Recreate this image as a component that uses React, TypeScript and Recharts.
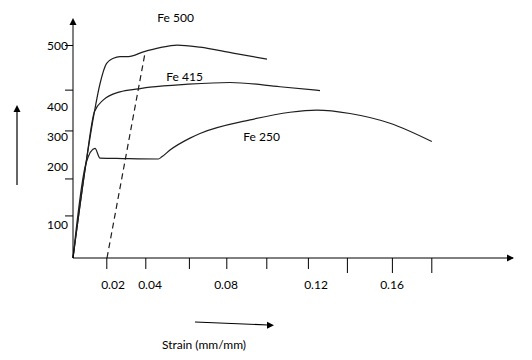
import { LineChart, Line, XAxis, YAxis, ReferenceDot } from "recharts";

// strain (mm/mm) / stress (N/mm²)
const fe500Strain = [0, 0.0065, 0.0107, 0.0135, 0.0168, 0.0202, 0.0235, 0.0277, 0.0352, 0.0435, 0.052, 0.0635, 0.08, 0.097];
const fe500Stress = [0, 223, 344, 410, 458, 470, 474, 474, 485, 495, 501, 496, 482, 468];

const fe415Strain = [0, 0.0065, 0.0107, 0.0152, 0.0235, 0.0327, 0.0385, 0.0575, 0.0785, 0.1035, 0.1235];
const fe415Stress = [0, 223, 344, 372, 391, 398, 402, 409, 413, 403, 394];

const fe250Strain = [0, 0.0065, 0.011, 0.0135, 0.025, 0.0427, 0.0444, 0.0485, 0.0585, 0.0635, 0.0885, 0.1085, 0.1219, 0.1385, 0.1585, 0.1794];
const fe250Stress = [0, 223, 258, 235, 234, 233, 238, 254, 282, 293, 325, 343, 348, 340, 317, 274];

// 0.2% offset proof line
const offsetStrain = [0.017, 0.036];
const offsetStress = [0, 482];

// axis ticks (the sketch puts tick marks and labels in slightly different places)
const xTickMarks = [0.0169, 0.0364, 0.0582, 0.0769, 0.0969, 0.1177, 0.1372, 0.1597, 0.1794];
const xLabelAt = [0.02, 0.0385, 0.0765, 0.1215, 0.1595];
const xTickLabels = ["0.02", "0.04", "0.08", "0.12", "0.16"];

const yTickMarks = [99, 186, 299, 395, 500];
const yLabelAt = [78, 216, 287, 356, 499];
const yTickLabels = ["100", "200", "300", "400", "500"];

const gradeNames = ["Fe 500", "Fe 415", "Fe 250"];
const gradeLabelStrain = [0.0513, 0.0558, 0.0943];
const gradeLabelStress = [565, 426, 285];

const toPoints = (xs: number[], ys: number[]) => xs.map((x, i) => ({ x, y: ys[i] }));

const FONT = "Lato, 'Open Sans', sans-serif";
const INK = "#000";
const CURVE = "#1e1e1e";

function XTick({ x, y, payload }: any) {
  const v = payload.value;
  if (xTickMarks.includes(v)) {
    return <line x1={x} x2={x} y1={y} y2={y + (v > 0.13 ? 15 : 11)} stroke={INK} strokeWidth={1} />;
  }
  const i = xLabelAt.indexOf(v);
  return (
    <text x={x} y={y + 26} textAnchor="middle" dominantBaseline="central" fontSize={12} fontFamily={FONT} fill={INK}>
      {xTickLabels[i]}
    </text>
  );
}

function YTick({ x, y, payload }: any) {
  const v = payload.value;
  if (yTickMarks.includes(v)) {
    return <line x1={x - 8} x2={x} y1={y} y2={y} stroke={INK} strokeWidth={1} />;
  }
  const i = yLabelAt.indexOf(v);
  return (
    <text x={x - 5} y={y} textAnchor="end" dominantBaseline="central" fontSize={12} fontFamily={FONT} fill={INK}>
      {yTickLabels[i]}
    </text>
  );
}

export default function App() {
  const curves = [
    toPoints(fe500Strain, fe500Stress),
    toPoints(fe415Strain, fe415Stress),
    toPoints(fe250Strain, fe250Stress),
  ];

  return (
    <div style={{ position: "absolute", left: 0, top: 0, width: 532, height: 360, background: "#fff" }}>
      <LineChart width={532} height={360} margin={{ top: 20, right: 19, bottom: 72, left: 0 }}>
        <XAxis
          type="number"
          dataKey="x"
          domain={[0, 0.22]}
          ticks={[...xTickMarks, ...xLabelAt]}
          interval={0}
          tick={<XTick />}
          tickLine={false}
          tickSize={0}
          tickMargin={0}
          height={30}
          axisLine={{ stroke: INK, strokeWidth: 1 }}
        />
        <YAxis
          type="number"
          domain={[0, 560]}
          ticks={[...yTickMarks, ...yLabelAt]}
          interval={0}
          tick={<YTick />}
          tickLine={false}
          tickSize={0}
          tickMargin={0}
          width={73}
          axisLine={{ stroke: INK, strokeWidth: 1 }}
        />
        {curves.map((pts, i) => (
          <Line
            key={gradeNames[i]}
            data={pts}
            dataKey="y"
            type="monotone"
            stroke={CURVE}
            strokeWidth={1.2}
            dot={false}
            activeDot={false}
            isAnimationActive={false}
          />
        ))}
        <Line
          data={toPoints(offsetStrain, offsetStress)}
          dataKey="y"
          type="linear"
          stroke={CURVE}
          strokeWidth={1.2}
          strokeDasharray="6 4"
          dot={false}
          activeDot={false}
          isAnimationActive={false}
        />
        {gradeNames.map((name, i) => (
          <ReferenceDot
            key={name}
            x={gradeLabelStrain[i]}
            y={gradeLabelStress[i]}
            ifOverflow="visible"
            shape={(p: any) => (
              <text x={p.cx} y={p.cy} textAnchor="middle" dominantBaseline="central" fontSize={12} fontFamily={FONT} fill={INK}>
                {name}
              </text>
            )}
          />
        ))}
        {/* axis arrowheads */}
        <ReferenceDot
          x={0}
          y={560}
          ifOverflow="visible"
          shape={(p: any) => (
            <polygon points={`${p.cx},${p.cy - 2} ${p.cx - 3.5},${p.cy + 5} ${p.cx + 3.5},${p.cy + 5}`} fill={INK} />
          )}
        />
        <ReferenceDot
          x={0.22}
          y={0}
          ifOverflow="visible"
          shape={(p: any) => (
            <polygon points={`${p.cx + 1},${p.cy} ${p.cx - 6},${p.cy - 3.5} ${p.cx - 6},${p.cy + 3.5}`} fill={INK} />
          )}
        />
      </LineChart>
      <svg width={532} height={360} style={{ position: "absolute", left: 0, top: 0, pointerEvents: "none" }}>
        {/* stress direction arrow */}
        <line x1={17} y1={185} x2={17} y2={110} stroke={INK} strokeWidth={1.2} />
        <polygon points="17,105 13.5,112 20.5,112" fill={INK} />
        {/* strain direction arrow + title */}
        <line x1={195} y1={322} x2={268} y2={325} stroke={INK} strokeWidth={1.2} />
        <polygon points="274,325.3 267,321.8 267,328.8" fill={INK} />
        <text x={204} y={344} textAnchor="middle" dominantBaseline="central" fontSize={12} fontFamily={FONT} fill={INK}>
          Strain (mm/mm)
        </text>
      </svg>
    </div>
  );
}
